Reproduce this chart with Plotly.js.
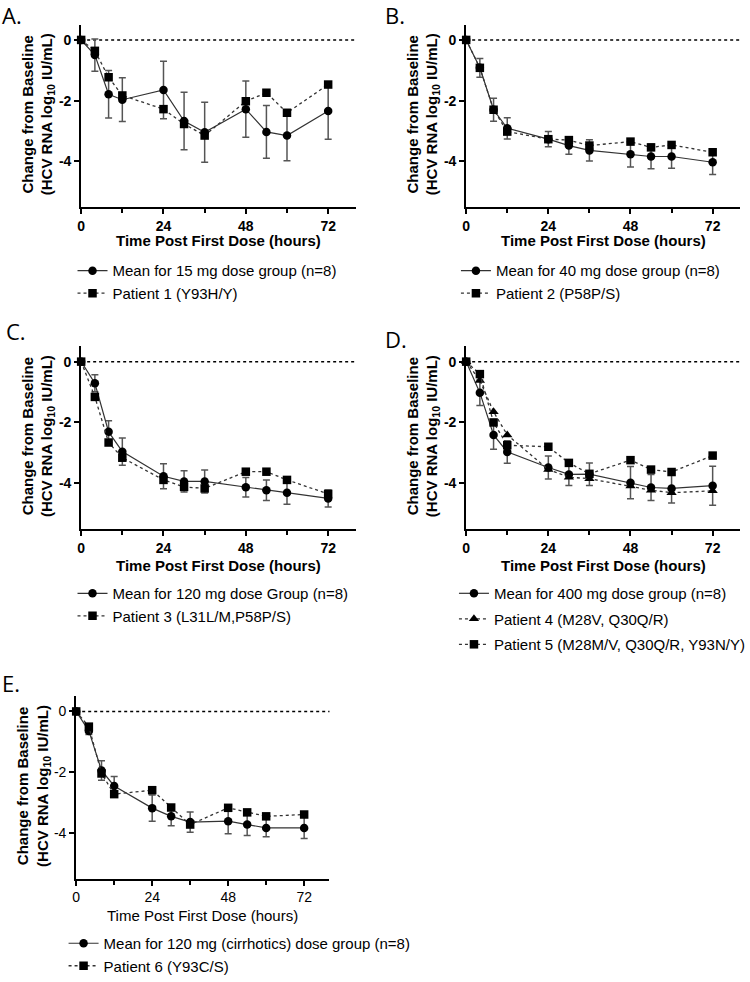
<!DOCTYPE html>
<html>
<head>
<meta charset="utf-8">
<script src="https://cdn.plot.ly/plotly-3.0.1.min.js"></script>
<style>html,body{margin:0;padding:0;background:#fff;}#chart{width:750px;height:982px;}</style>
</head>
<body>
<div id="chart"></div>
<script>
// ---- Data ----
const hours = [0, 4, 8, 12, 24, 30, 36, 48, 54, 60, 72];
const xTicks = [0, 24, 48, 72];
const xMinorTicks = [12, 36, 60];
const yTicks = [0, -2, -4];
const yTickText = ['0', '-2', '-4'];

// Panel A
const meanA = [0, -0.50, -1.79, -1.97, -1.65, -2.67, -3.04, -2.28, -3.03, -3.15, -2.34];
const errA  = [0, 0.53, 0.78, 0.72, 0.95, 0.95, 0.99, 0.93, 0.87, 0.83, 0.93];
const patient1 = [0, -0.36, -1.23, -1.83, -2.28, -2.77, -3.15, -2.02, -1.74, -2.40, -1.47];
// Panel B
const meanB = [0, -0.92, -2.30, -2.91, -3.27, -3.48, -3.64, -3.77, -3.84, -3.84, -4.03];
const errB  = [0, 0.31, 0.38, 0.35, 0.25, 0.29, 0.35, 0.42, 0.40, 0.39, 0.40];
const patient2 = [0, -0.92, -2.30, -3.02, -3.27, -3.30, -3.48, -3.35, -3.54, -3.46, -3.70];
// Panel C
const meanC = [0, -0.71, -2.31, -2.96, -3.77, -3.94, -3.94, -4.13, -4.23, -4.31, -4.50];
const errC  = [0, 0.28, 0.37, 0.45, 0.41, 0.35, 0.38, 0.32, 0.34, 0.38, 0.28];
const patient3 = [0, -1.16, -2.66, -3.16, -3.89, -4.12, -4.17, -3.62, -3.62, -3.89, -4.35];
// Panel D
const meanD = [0, -1.02, -2.41, -2.97, -3.48, -3.71, -3.70, -3.98, -4.14, -4.17, -4.08];
const errD  = [0, 0.42, 0.47, 0.37, 0.38, 0.36, 0.37, 0.53, 0.43, 0.48, 0.64];
const patient4 = [0, -0.62, -1.65, -2.41, -3.55, -3.80, -3.85, -4.09, -4.23, -4.31, -4.25];
const patient5 = [0, -0.41, -2.00, -2.75, -2.80, -3.33, -3.69, -3.24, -3.55, -3.63, -3.09];
// Panel E
const meanE = [0, -0.64, -1.94, -2.45, -3.18, -3.45, -3.64, -3.61, -3.72, -3.83, -3.83];
const errE  = [0, 0.12, 0.32, 0.31, 0.43, 0.31, 0.33, 0.41, 0.36, 0.29, 0.35];
const patient6 = [0, -0.50, -2.04, -2.72, -2.59, -3.16, -3.72, -3.17, -3.32, -3.45, -3.39];

const panelLabels = ['A.', 'B.', 'C.', 'D.', 'E.'];
const xTitle = 'Time Post First Dose (hours)';
const yTitle = 'Change from Baseline<br>(HCV RNA log<sub>10</sub> IU/mL)';

// ---- Styling helpers ----
const FONT = 'Liberation Sans, Arial, sans-serif';
const W = 750, H = 982;
const fx = p => p / W;
const fy = p => 1 - p / H;

function meanTrace(y, err, name, n, legend) {
  return {
    x: hours, y: y, name: name, type: 'scatter', mode: 'lines+markers',
    xaxis: 'x' + (n === 1 ? '' : n), yaxis: 'y' + (n === 1 ? '' : n),
    legend: legend, legendgroup: name, cliponaxis: false,
    line: {color: '#333', width: 1.2},
    marker: {symbol: 'circle', size: 8.5, color: '#000'},
    error_y: {type: 'data', array: err, visible: true, color: '#555', thickness: 1.5, width: 3.5}
  };
}
function patientTrace(y, name, n, legend, symbol) {
  return {
    x: hours, y: y, name: name, type: 'scatter', mode: 'lines+markers',
    xaxis: 'x' + (n === 1 ? '' : n), yaxis: 'y' + (n === 1 ? '' : n),
    legend: legend, legendgroup: name, cliponaxis: false,
    line: {color: '#333', width: 1.3, dash: 'dot'},
    marker: {symbol: symbol || 'square', size: symbol ? 9 : 8.5, color: '#000'}
  };
}

function xAxis(domain, anchor, bold) {
  const w = bold ? 'bold' : 'normal';
  return {
    domain: domain, anchor: anchor, range: [0, 80],
    tickmode: 'array', tickvals: xTicks,
    ticks: 'outside', ticklen: 5, tickwidth: 2, tickcolor: '#000',
    showline: true, linewidth: 2, linecolor: '#000',
    showgrid: false, zeroline: false, fixedrange: true,
    minor: {tickmode: 'array', tickvals: xMinorTicks, ticks: 'outside', ticklen: 4, tickwidth: 2, tickcolor: '#000', showgrid: false},
    tickfont: {family: FONT, size: 14, color: '#000', weight: w}
  };
}
function yAxis(domain, anchor, bold) {
  const w = bold ? 'bold' : 'normal';
  return {
    domain: domain, anchor: anchor, range: [-5.5, 0.5],
    tickmode: 'array', tickvals: yTicks, ticktext: yTickText,
    ticks: 'outside', ticklen: 5, tickwidth: 2, tickcolor: '#000',
    showline: true, linewidth: 2, linecolor: '#000',
    showgrid: false, zeroline: false, fixedrange: true,
    tickfont: {family: FONT, size: 14, color: '#000', weight: w}
  };
}
function legendAt(xpx, ytop, gap) {
  return {
    x: fx(xpx), y: fy(ytop), xanchor: 'left', yanchor: 'top',
    bgcolor: 'rgba(0,0,0,0)', borderwidth: 0,
    font: {family: FONT, size: 15, color: '#000'},
    traceorder: 'grouped', tracegroupgap: gap || 0
  };
}

const traces = [
  meanTrace(meanA, errA, 'Mean for 15 mg dose group (n=8)', 1, 'legend'),
  patientTrace(patient1, 'Patient 1 (Y93H/Y)', 1, 'legend'),
  meanTrace(meanB, errB, 'Mean for 40 mg dose group (n=8)', 2, 'legend2'),
  patientTrace(patient2, 'Patient 2 (P58P/S)', 2, 'legend2'),
  meanTrace(meanC, errC, 'Mean for 120 mg dose Group (n=8)', 3, 'legend3'),
  patientTrace(patient3, 'Patient 3 (L31L/M,P58P/S)', 3, 'legend3'),
  meanTrace(meanD, errD, 'Mean for 400 mg dose group (n=8)', 4, 'legend4'),
  patientTrace(patient4, 'Patient 4 (M28V, Q30Q/R)', 4, 'legend4', 'triangle-up'),
  patientTrace(patient5, 'Patient 5 (M28M/V, Q30Q/R, Y93N/Y)', 4, 'legend4'),
  meanTrace(meanE, errE, 'Mean for 120 mg (cirrhotics) dose group (n=8)', 5, 'legend5'),
  patientTrace(patient6, 'Patient 6 (Y93C/S)', 5, 'legend5')
];

const colLpx = [81.7, 358], colRpx = [469.3, 745], colEpx = [76.7, 331.7];
const row1px = [25, 209], row2px = [350, 534.3], row3px = [703.4, 887.7];
const dom = (a) => [fx(a[0]), fx(a[1])];
const domY = (a) => [fy(a[1]), fy(a[0])];

function zeroLine(n) {
  const s = n === 1 ? '' : n;
  return {type: 'line', xref: 'x' + s + ' domain', yref: 'y' + s, x0: 0, x1: 1, y0: 0, y1: 0,
          line: {color: '#000', width: 1.5, dash: 'dot'}, layer: 'below'};
}
function label(text, xpx, ypx) {
  return {text: text, xref: 'paper', yref: 'paper', x: fx(xpx), y: fy(ypx), xanchor: 'left', yanchor: 'middle',
          showarrow: false, font: {family: 'Open Sans, Noto Sans, sans-serif', size: 22, color: '#000'}};
}
function xTitleAnn(col, ypx, bold) {
  return {text: xTitle, xref: 'paper', yref: 'paper', x: fx((col[0] + col[1]) / 2), y: fy(ypx),
          xanchor: 'center', yanchor: 'middle', showarrow: false,
          font: {family: FONT, size: 15, color: '#000', weight: bold ? 'bold' : 'normal'}};
}
function yTitleAnn(col, row) {
  return {text: yTitle, xref: 'paper', yref: 'paper', x: fx(col[0] - 43), y: fy((row[0] + row[1]) / 2 - 2),
          xanchor: 'center', yanchor: 'middle', textangle: -90, showarrow: false,
          font: {family: FONT, size: 15, color: '#000', weight: 'bold'}};
}

const layout = {
  width: W, height: H, margin: {l: 0, r: 0, t: 0, b: 0},
  paper_bgcolor: '#fff', plot_bgcolor: '#fff', showlegend: true,
  xaxis: xAxis(dom(colLpx), 'y', true), yaxis: yAxis(domY(row1px), 'x', true),
  xaxis2: xAxis(dom(colRpx), 'y2', true), yaxis2: yAxis(domY(row1px), 'x2', true),
  xaxis3: xAxis(dom(colLpx), 'y3', true), yaxis3: yAxis(domY(row2px), 'x3', true),
  xaxis4: xAxis(dom(colRpx), 'y4', true), yaxis4: yAxis(domY(row2px), 'x4', true),
  xaxis5: xAxis(dom(colEpx), 'y5', false), yaxis5: yAxis(domY(row3px), 'x5', false),
  legend: legendAt(73, 257),
  legend2: legendAt(459, 257),
  legend3: legendAt(73, 583),
  legend4: legendAt(457, 583, 3),
  legend5: legendAt(64, 937),
  shapes: [zeroLine(1), zeroLine(2), zeroLine(3), zeroLine(4), zeroLine(5)],
  annotations: [
    label(panelLabels[0], 0, 15), label(panelLabels[1], 386, 15),
    label(panelLabels[2], 4, 334), label(panelLabels[3], 386, 342),
    label(panelLabels[4], 0, 690),
    xTitleAnn(colLpx, 243, true), xTitleAnn(colRpx, 243, true),
    xTitleAnn(colLpx, 571, true), xTitleAnn(colRpx, 571, true),
    xTitleAnn(colEpx, 924.5, false),
    yTitleAnn(colLpx, row1px), yTitleAnn(colRpx, row1px),
    yTitleAnn(colLpx, row2px), yTitleAnn(colRpx, row2px),
    yTitleAnn(colEpx, row3px)
  ]
};

Plotly.newPlot('chart', traces, layout, {staticPlot: true, displayModeBar: false});
</script>
</body>
</html>
